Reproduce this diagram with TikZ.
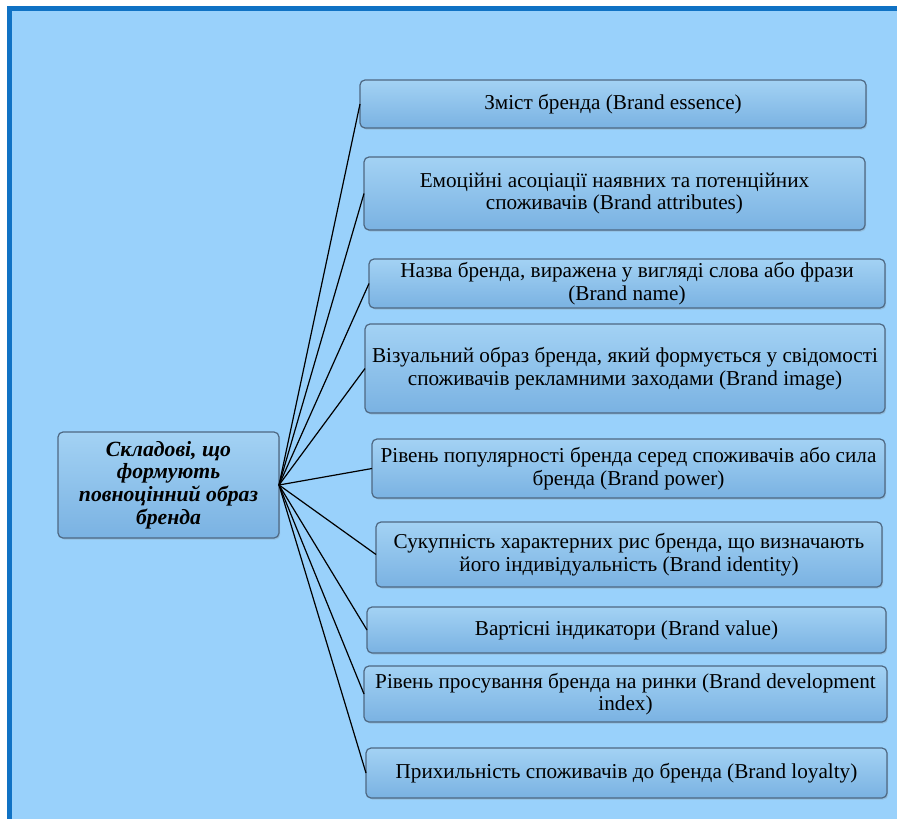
\documentclass[tikz,border=0pt]{standalone}
\usepackage{fontspec}
\setmainfont{Liberation Serif}
\usetikzlibrary{shadows}
\definecolor{bgblue}{RGB}{153,209,251}
\definecolor{frameblue}{RGB}{16,114,196}
\definecolor{boxtop}{RGB}{163,210,244}
\definecolor{boxbot}{RGB}{122,178,226}
\definecolor{boxline}{RGB}{78,104,130}
\tikzset{
  bx/.style={rectangle, rounded corners=5pt, draw=boxline, line width=1.2pt,
    top color=boxtop, bottom color=boxbot, inner sep=0pt, outer sep=0pt,
    align=center, text=black, font=\fontsize{21.2}{22.5}\selectfont,
    drop shadow={shadow xshift=1.2pt, shadow yshift=-1.5pt, opacity=0.25}},
  centerbox/.style={bx, font=\fontsize{21.7}{22.8}\selectfont\bfseries\itshape},
  conn/.style={draw=black, line width=1.2pt}
}
\begin{document}
\begin{tikzpicture}[x=1pt,y=-1pt]
\useasboundingbox (0,0) rectangle (897,819);
\fill[white] (0,0) rectangle (897,819);
\fill[bgblue] (7,6) rectangle (897,819);
\fill[frameblue] (7,6) rectangle (897,11);
\fill[frameblue] (7,6) rectangle (12,819);

\node[centerbox, minimum width=221pt, minimum height=106pt] (c) at (168.5,485)
  {Складові, що\\формують\\повноцінний образ\\бренда};

\node[bx, minimum width=506pt, minimum height=48pt] (b1) at (613,104)
  {Зміст бренда (Brand essence)};
\node[bx, minimum width=501pt, minimum height=73pt] (b2) at (614.5,193.5)
  {Емоційні асоціації наявних та потенційних\\споживачів (Brand attributes)};
\node[bx, minimum width=516pt, minimum height=49pt] (b3) at (627,283.5)
  {Назва бренда, виражена у вигляді слова або фрази\\(Brand name)};
\node[bx, minimum width=520pt, minimum height=89pt] (b4) at (625,368.5)
  {Візуальний образ бренда, який формується у свідомості\\споживачів рекламними заходами (Brand image)};
\node[bx, minimum width=513pt, minimum height=59pt] (b5) at (628.5,468.5)
  {Рівень популярності бренда серед споживачів або сила\\бренда (Brand power)};
\node[bx, minimum width=506pt, minimum height=65pt] (b6) at (629,554.5)
  {Сукупність характерних рис бренда, що визначають\\його індивідуальність (Brand identity)};
\node[bx, minimum width=519pt, minimum height=46pt] (b7) at (626.5,630)
  {Вартісні індикатори (Brand value)};
\node[bx, minimum width=523pt, minimum height=56pt] (b8) at (625.5,694)
  {Рівень просування бренда на ринки (Brand development\\index)};
\node[bx, minimum width=521pt, minimum height=50pt] (b9) at (626.5,773)
  {Прихильність споживачів до бренда (Brand loyalty)};

\foreach \b in {b1,b2,b3,b4,b5,b6,b7,b8,b9}
  \draw[conn] (c.east) -- (\b.west);
\end{tikzpicture}
\end{document}
